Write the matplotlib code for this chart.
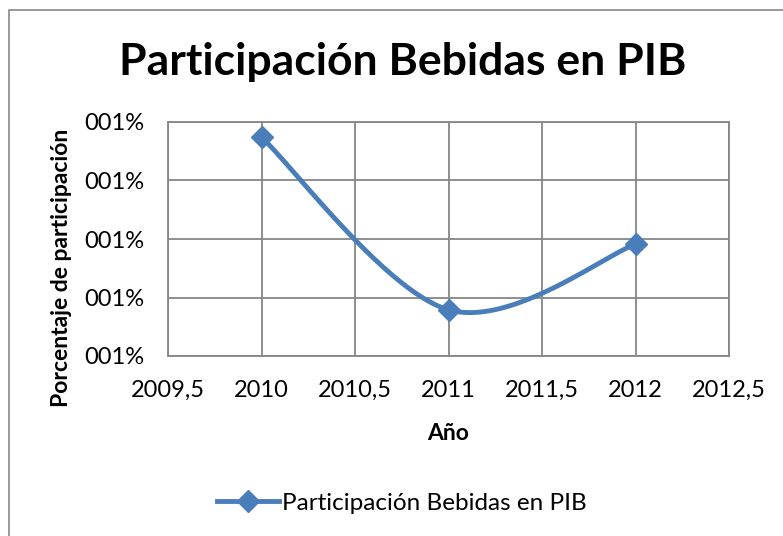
import matplotlib.pyplot as plt
import numpy as np
from matplotlib.patches import Rectangle

# data (grid units: 0 = bottom gridline, 4 = top gridline)
years = [2010, 2011, 2012]
participacion = [3.74, 0.79, 1.91]

x_ticks = [2009.5, 2010, 2010.5, 2011, 2011.5, 2012, 2012.5]
x_labels = ['2009,5', '2010', '2010,5', '2011', '2011,5', '2012', '2012,5']
y_ticks = [0, 1, 2, 3, 4]
y_labels = ['001%', '001%', '001%', '001%', '001%']

title = 'Participación Bebidas en PIB'
blue = '#4A7EBB'
grid_gray = '#868686'

plt.rcParams['font.family'] = ['Lato', 'DejaVu Sans']


def smooth(xs, ys, n=60):
    # Excel-style smoothed line: cubic bezier with catmull-rom control points
    pts = np.column_stack([xs, ys]).astype(float)
    out = []
    for i in range(len(pts) - 1):
        p0 = pts[i - 1] if i > 0 else pts[i]
        p1 = pts[i]
        p2 = pts[i + 1]
        p3 = pts[i + 2] if i + 2 < len(pts) else pts[i + 1]
        c1 = p1 + (p2 - p0) / 6
        c2 = p2 - (p3 - p1) / 6
        t = np.linspace(0, 1, n)[:, None]
        seg = ((1 - t) ** 3) * p1 + 3 * ((1 - t) ** 2) * t * c1 + 3 * (1 - t) * t ** 2 * c2 + t ** 3 * p2
        out.append(seg)
    out = np.vstack(out)
    return out[:, 0], out[:, 1]


fig = plt.figure(figsize=(7.83, 5.36), dpi=100)
fig.patches.append(Rectangle((9 / 783, -0.1), 1.2, 1.1 - 10 / 536, transform=fig.transFigure,
                             fill=False, edgecolor='#888888', linewidth=1.2))

ax = fig.add_axes([168 / 783, 1 - 356 / 536, (729 - 168) / 783, (356 - 122) / 536])

sx, sy = smooth(years, participacion)
ax.plot(sx, sy, color=blue, linewidth=3.5, solid_capstyle='round', zorder=3)
ax.plot(years, participacion, linestyle='none', marker='D', markersize=11,
        color=blue, zorder=4)
ax.plot([], [], color=blue, linewidth=3.5, marker='D', markersize=11, label=title)

ax.set_xlim(2009.5, 2012.5)
ax.set_ylim(0, 4)
ax.set_xticks(x_ticks)
ax.set_xticklabels(x_labels)
ax.set_yticks(y_ticks)
ax.set_yticklabels(y_labels)
ax.tick_params(length=0, labelsize=17)
ax.tick_params(axis='x', pad=17)
ax.tick_params(axis='y', pad=17)
ax.grid(True, color=grid_gray, linewidth=1.3)
for s in ax.spines.values():
    s.set_color(grid_gray)
    s.set_linewidth(1.3)

ax.set_xlabel('Año', fontsize=16.5, fontweight='bold')
ax.set_ylabel('Porcentaje de participación', fontsize=16.5, fontweight='bold')
ax.xaxis.set_label_coords(0.5, (356 - 433) / 234)
ax.yaxis.set_label_coords((62 - 168) / 561, (356 - 268) / 234)
ax.xaxis.label.set_va('center')
ax.yaxis.label.set_va('center')

fig.text(403 / 783, 1 - 75 / 536, title, ha='center', va='baseline', fontsize=32, fontweight='bold')

fig.legend(loc='center', bbox_to_anchor=(402 / 783, 1 - 503 / 536), frameon=False,
           fontsize=17.5, handlelength=2.55, handletextpad=0.1)

fig.savefig('out.png', dpi=100)
